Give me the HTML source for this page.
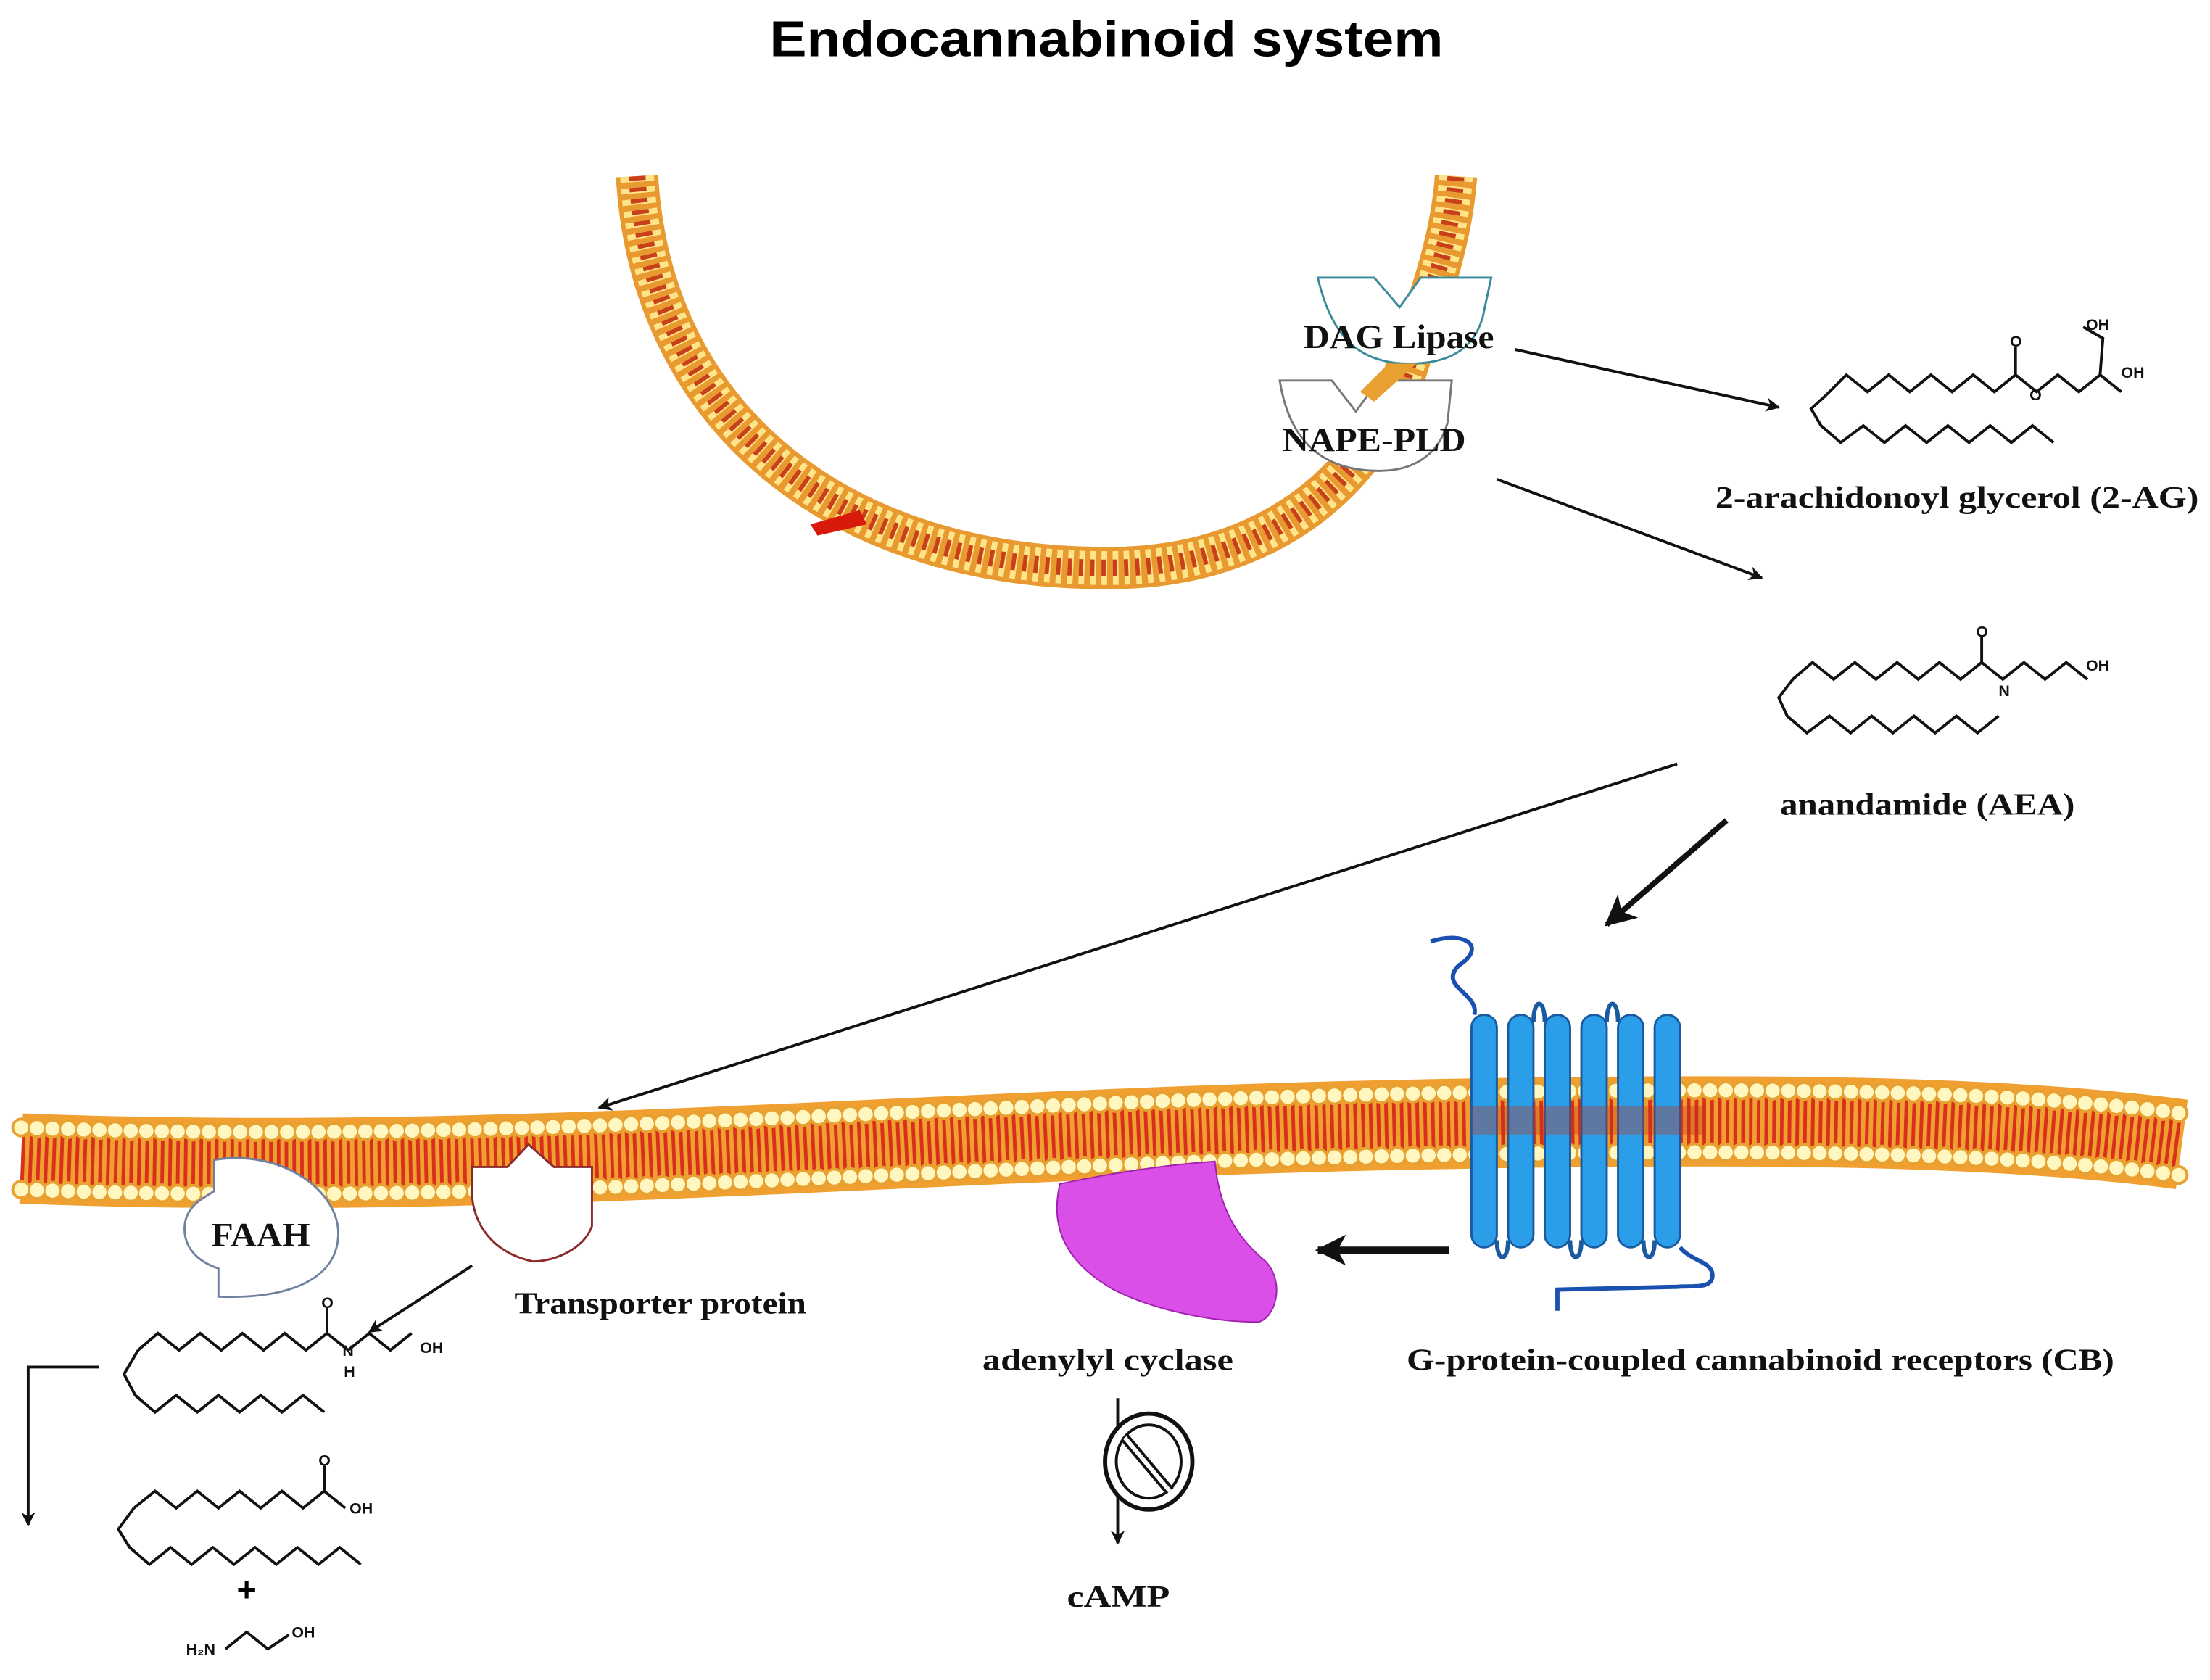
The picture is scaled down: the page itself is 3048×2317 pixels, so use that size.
<!DOCTYPE html>
<html><head><meta charset="utf-8"><style>
html,body{margin:0;padding:0;background:#fff;width:3048px;height:2317px;overflow:hidden}
svg{display:block}
.l{font-family:"Liberation Serif",serif;font-weight:bold;fill:#111}
.m{fill:none;stroke:#111;stroke-width:2;stroke-linejoin:miter}
.s{font-family:"Liberation Sans",sans-serif;font-size:11px;font-weight:bold;fill:#111}
</style></head><body>
<svg width="3048" height="2317" viewBox="0 0 1568 1192" preserveAspectRatio="none" xmlns="http://www.w3.org/2000/svg">
<defs>
<marker id="ah" markerWidth="10" markerHeight="10" refX="9" refY="5" orient="auto" markerUnits="userSpaceOnUse"><path d="M0,0 L10,5 L0,10 L3,5 z" fill="#111"/></marker>
<marker id="ah2" markerWidth="22" markerHeight="22" refX="20" refY="11" orient="auto" markerUnits="userSpaceOnUse"><path d="M0,0 L22,11 L0,22 L6,11 z" fill="#111"/></marker>
</defs>
<text x="785" y="40" text-anchor="middle" font-family="Liberation Sans,sans-serif" font-weight="bold" font-size="36" textLength="478" lengthAdjust="spacingAndGlyphs" fill="#000">Endocannabinoid system</text>

<g fill="none">
<path d="M452,125 C462,300 600,405 790,403 C900,402 975,340 1000,255 C1015,210 1030,170 1033,125" stroke="#e89a30" stroke-width="30"/>
<path d="M452,125 C462,300 600,405 790,403 C900,402 975,340 1000,255 C1015,210 1030,170 1033,125" stroke="#ffe58a" stroke-width="24" stroke-dasharray="4 4"/>
<path d="M452,125 C462,300 600,405 790,403 C900,402 975,340 1000,255 C1015,210 1030,170 1033,125" stroke="#c8401a" stroke-width="12" stroke-dasharray="3 5"/>
</g>
<path d="M575,372 L610,362 L615,372 L580,380z" fill="#d81a0a"/>

<path d="M935,197 L975,197 L993,218 L1008,197 L1058,197 L1052,225 C1045,250 1025,258 1000,258 C965,258 945,240 935,197z" fill="#fff" stroke="#3a8a9a" stroke-width="1.5"/>
<path d="M908,270 L945,270 L962,292 L978,270 L1030,270 L1027,300 C1020,325 1000,335 975,334 C940,333 915,315 908,270z" fill="#fff" stroke="#777" stroke-width="1.5"/>
<path d="M985,258 L1005,258 L975,285 L965,278z" fill="#e8a030"/>
<text class="l" x="925" y="247" font-size="24" textLength="135" lengthAdjust="spacingAndGlyphs">DAG Lipase</text>
<text class="l" x="910" y="320" font-size="24" textLength="130" lengthAdjust="spacingAndGlyphs">NAPE-PLD</text>

<line x1="1075" y1="248" x2="1262" y2="289" stroke="#111" stroke-width="2" marker-end="url(#ah)"/>
<line x1="1062" y1="340" x2="1250" y2="410" stroke="#111" stroke-width="2" marker-end="url(#ah)"/>

<polyline class="m" points="1296,280 1310,266 1325,278 1340,266 1355,278 1370,266 1385,278 1400,266 1415,278 1430,266 1445,278 1460,266 1475,278 1490,266 1505,278 1490,266 1492,240 1478,232"/>
<polyline class="m" points="1296,280 1285,290 1292,302 1306,314 1322,302 1337,314 1352,302 1367,314 1382,302 1397,314 1412,302 1427,314 1442,302 1457,314"/>
<line x1="1430" y1="266" x2="1430" y2="246" stroke="#111" stroke-width="2"/>
<text class="s" x="1426" y="246">O</text><text class="s" x="1440" y="284">O</text>
<text class="s" x="1480" y="234">OH</text><text class="s" x="1505" y="268">OH</text>
<text class="l" x="1217" y="360" font-size="22" textLength="343" lengthAdjust="spacingAndGlyphs">2-arachidonoyl glycerol (2-AG)</text>

<polyline class="m" points="1272,482 1286,470 1301,482 1316,470 1331,482 1346,470 1361,482 1376,470 1391,482 1406,470 1421,482 1436,470 1451,482 1466,470 1481,482"/>
<polyline class="m" points="1272,482 1262,495 1268,508 1282,520 1298,508 1313,520 1328,508 1343,520 1358,508 1373,520 1388,508 1403,520 1418,508"/>
<line x1="1406" y1="470" x2="1406" y2="452" stroke="#111" stroke-width="2"/>
<text class="s" x="1402" y="452">O</text><text class="s" x="1418" y="494">N</text><text class="s" x="1480" y="476">OH</text>
<text class="l" x="1263" y="578" font-size="22" textLength="209" lengthAdjust="spacingAndGlyphs">anandamide (AEA)</text>

<line x1="1190" y1="542" x2="425" y2="786" stroke="#111" stroke-width="2" marker-end="url(#ah)"/>
<line x1="1225" y1="582" x2="1140" y2="656" stroke="#111" stroke-width="4" marker-end="url(#ah2)"/>

<g fill="none">
<path d="M15,822 C350,835 650,805 1000,798 C1250,793 1420,795 1548,812" stroke="#f0a030" stroke-width="64"/>
<path d="M15,822 C350,835 650,805 1000,798 C1250,793 1420,795 1548,812" stroke="#d8301a" stroke-width="34" stroke-dasharray="2.5 3"/>
<path d="M15,800 C350,813 650,783 1000,776 C1250,771 1420,773 1548,790" stroke="#e8a030" stroke-width="14" stroke-dasharray="0.1 11" stroke-linecap="round"/>
<path d="M15,800 C350,813 650,783 1000,776 C1250,771 1420,773 1548,790" stroke="#fff6c0" stroke-width="10" stroke-dasharray="0.1 11" stroke-linecap="round"/>
<path d="M15,844 C350,857 650,827 1000,820 C1250,815 1420,817 1548,834" stroke="#e8a030" stroke-width="14" stroke-dasharray="0.1 11" stroke-linecap="round"/>
<path d="M15,844 C350,857 650,827 1000,820 C1250,815 1420,817 1548,834" stroke="#fff6c0" stroke-width="10" stroke-dasharray="0.1 11" stroke-linecap="round"/>
</g>

<path d="M152,823 C200,815 240,845 240,875 C240,905 210,922 155,920 L155,900 C140,895 130,885 131,870 C132,855 145,850 152,845z" fill="#fff" stroke="#7080a0" stroke-width="1.5"/>
<text class="l" x="150" y="884" font-size="24" textLength="70" lengthAdjust="spacingAndGlyphs">FAAH</text>
<path d="M335,828 L360,828 L375,812 L393,828 L420,828 L420,870 C415,885 395,895 378,895 C355,890 338,875 335,850z" fill="#fff" stroke="#8a2a2a" stroke-width="1.5"/>
<text class="l" x="365" y="932" font-size="22" textLength="207" lengthAdjust="spacingAndGlyphs">Transporter protein</text>
<line x1="335" y1="898" x2="262" y2="945" stroke="#111" stroke-width="2" marker-end="url(#ah)"/>

<path d="M752,840 C800,830 835,826 862,824 C865,860 880,880 898,895 C912,910 905,935 893,938 C860,938 820,930 790,915 C755,895 745,870 752,840z" fill="#d94fe8" stroke="#a020b0" stroke-width="1"/>
<text class="l" x="697" y="972" font-size="22" textLength="178" lengthAdjust="spacingAndGlyphs">adenylyl cyclase</text>

<path d="M1015,668 C1040,660 1055,672 1035,685 C1020,700 1050,705 1046,720" fill="none" stroke="#1a50b0" stroke-width="3"/>
<path d="M1192,885 C1200,895 1215,895 1215,905 C1215,915 1200,912 1190,913 L1105,915 L1105,930" fill="none" stroke="#1a50b0" stroke-width="3"/>
<g fill="#2a9ee8" stroke="#1a5aa0" stroke-width="1.5">
<rect x="1044" y="720" width="18" height="165" rx="9"/>
<rect x="1070" y="720" width="18" height="165" rx="9"/>
<rect x="1096" y="720" width="18" height="165" rx="9"/>
<rect x="1122" y="720" width="18" height="165" rx="9"/>
<rect x="1148" y="720" width="18" height="165" rx="9"/>
<rect x="1174" y="720" width="18" height="165" rx="9"/>
</g>
<g fill="none" stroke="#1a5aa0" stroke-width="3">
<path d="M1062,880 C1062,896 1070,896 1070,880"/><path d="M1114,880 C1114,896 1122,896 1122,880"/><path d="M1166,880 C1166,896 1174,896 1174,880"/>
<path d="M1088,725 C1088,708 1096,708 1096,725"/><path d="M1140,725 C1140,708 1148,708 1148,725"/>
</g>
<rect x="1044" y="785" width="166" height="20" fill="#c03020" opacity="0.35"/>
<line x1="1028" y1="887" x2="935" y2="887" stroke="#111" stroke-width="5" marker-end="url(#ah2)"/>
<text class="l" x="998" y="972" font-size="22" textLength="502" lengthAdjust="spacingAndGlyphs">G-protein-coupled cannabinoid receptors (CB)</text>

<line x1="793" y1="992" x2="793" y2="1095" stroke="#111" stroke-width="2" marker-end="url(#ah)"/>
<ellipse cx="815" cy="1037" rx="31" ry="34" fill="#fff" stroke="#111" stroke-width="3"/>
<ellipse cx="815" cy="1037" rx="23" ry="26" fill="none" stroke="#111" stroke-width="2"/>
<path d="M798,1020 L830,1058" stroke="#111" stroke-width="7"/>
<path d="M798,1020 L830,1058" stroke="#fff" stroke-width="3"/>
<text class="l" x="757" y="1140" font-size="22" textLength="73" lengthAdjust="spacingAndGlyphs">cAMP</text>

<polyline points="70,970 20,970 20,1082" fill="none" stroke="#111" stroke-width="2" marker-end="url(#ah)"/>
<polyline class="m" points="98,958 112,946 127,958 142,946 157,958 172,946 187,958 202,946 217,958 232,946 247,958 262,946 277,958 292,946"/>
<polyline class="m" points="98,958 88,975 96,990 110,1002 125,990 140,1002 155,990 170,1002 185,990 200,1002 215,990 230,1002"/>
<line x1="232" y1="946" x2="232" y2="928" stroke="#111" stroke-width="2"/>
<text class="s" x="228" y="928">O</text><text class="s" x="243" y="962">N</text><text class="s" x="244" y="977">H</text><text class="s" x="298" y="960">OH</text>
<polyline class="m" points="95,1070 110,1058 125,1070 140,1058 155,1070 170,1058 185,1070 200,1058 215,1070 230,1058 245,1070"/>
<polyline class="m" points="95,1070 84,1085 92,1098 106,1110 121,1098 136,1110 151,1098 166,1110 181,1098 196,1110 211,1098 226,1110 241,1098 256,1110"/>
<line x1="230" y1="1058" x2="230" y2="1040" stroke="#111" stroke-width="2"/>
<text class="s" x="226" y="1040">O</text><text class="s" x="248" y="1074">OH</text>
<text x="175" y="1136" text-anchor="middle" font-family="Liberation Sans,sans-serif" font-weight="bold" font-size="24">+</text>
<text class="s" x="132" y="1174">H₂N</text>
<polyline class="m" points="160,1170 175,1158 190,1170 205,1160"/>
<text class="s" x="207" y="1162">OH</text>
</svg>
</body></html>
